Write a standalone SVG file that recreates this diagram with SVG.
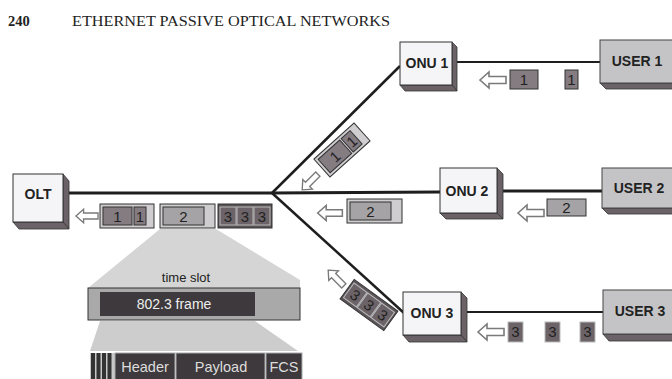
<svg xmlns="http://www.w3.org/2000/svg" xmlns:xlink="http://www.w3.org/1999/xlink" width="672" height="379" viewBox="0 0 672 379">
<defs>
<style>
.hdr{font-family:"Liberation Serif","Times New Roman",serif;fill:#222}
.lbl{font-family:"Liberation Sans",Arial,sans-serif;font-weight:bold;font-size:14px;fill:#222;text-anchor:middle}
.num{font-family:"Liberation Sans",Arial,sans-serif;font-size:15px;fill:#222;text-anchor:middle}
.txt{font-family:"Liberation Sans",Arial,sans-serif;text-anchor:middle}
.front{fill:#f5f5f7;stroke:#333;stroke-width:1}
.ufront{fill:#c4c4c6;stroke:#444;stroke-width:1}
.depth{fill:#6a6266;stroke:#333;stroke-width:0.8}
.link{stroke:#1e1e1e;fill:none}
.arrow{fill:#fff;stroke:#7a7a7a;stroke-width:1.6}
.outer{fill:#cfcdcf;stroke:#333;stroke-width:1}
.pk1{fill:#857c82;stroke:#333;stroke-width:1}
.pk2{fill:#a5a3a5;stroke:#333;stroke-width:1}
.pk3{fill:#6b6367;stroke:#bbb;stroke-width:1}
.dk{fill:#3d393c;stroke:#aaa;stroke-width:1}
</style>
<path id="arr" d="M-13,0 L-4,-8 L-4,-3.5 L13,-3.5 L13,3.5 L-4,3.5 L-4,8 Z"/>
<g id="g11">
<rect class="outer" width="54" height="24"/>
<rect class="pk1" x="3" y="3" width="29" height="18"/>
<rect class="pk1" x="34" y="3" width="12" height="18"/>
<text class="num" x="17.5" y="17.5">1</text>
<text class="num" x="40" y="17.5">1</text>
</g>
<g id="g2">
<rect class="outer" width="55" height="24"/>
<rect class="pk2" x="3" y="3" width="41" height="18"/>
<text class="num" x="23.5" y="17.5">2</text>
</g>
<g id="g333">
<rect width="54" height="24" fill="#5a5357" stroke="#333"/>
<rect class="pk3" x="2" y="3" width="16" height="18"/>
<rect class="pk3" x="19" y="3" width="16" height="18"/>
<rect class="pk3" x="36" y="3" width="16" height="18"/>
<text class="num" x="10" y="17.5" fill="#1e1e1e">3</text>
<text class="num" x="27" y="17.5" fill="#1e1e1e">3</text>
<text class="num" x="44" y="17.5" fill="#1e1e1e">3</text>
</g>
</defs>
<rect width="672" height="379" fill="#fff"/>

<text class="hdr" x="8" y="26" font-size="14.5" font-weight="bold">240</text>
<text class="hdr" x="72" y="26" font-size="14" textLength="318" lengthAdjust="spacingAndGlyphs">ETHERNET PASSIVE OPTICAL NETWORKS</text>

<g id="connectors">
<path class="link" stroke-width="3" d="M68,193 L272,193"/>
<path class="link" stroke-width="2.5" d="M272,193 L400,66"/>
<path class="link" stroke-width="3" d="M272,193 L440,192"/>
<path class="link" stroke-width="2.5" d="M272,193 L404,313"/>
<path class="link" stroke-width="2" d="M457,62 L600,62"/>
<path class="link" stroke-width="3" d="M503,191 L602,191"/>
<path class="link" stroke-width="2" d="M467,312 L603,312"/>
</g>

<g id="OLT">
<polygon class="depth" points="63,174 69,181 69,229 63,222"/>
<polygon class="depth" points="13,222 63,222 69,229 19,229"/>
<rect class="front" x="13" y="174" width="50" height="48"/>
<text class="lbl" x="38" y="199">OLT</text>
</g>
<g id="ONU1">
<polygon class="depth" points="452,42 457,47 457,91 452,85"/>
<polygon class="depth" points="400,85 452,85 457,91 405,91"/>
<rect class="front" x="400" y="42" width="52" height="43"/>
<text class="lbl" x="427" y="68">ONU 1</text>
</g>
<g id="ONU2">
<polygon class="depth" points="497,168 503,174 503,219 497,213"/>
<polygon class="depth" points="440,213 497,213 503,219 446,219"/>
<rect class="front" x="440" y="168" width="57" height="45"/>
<text class="lbl" x="467" y="196">ONU 2</text>
</g>
<g id="ONU3">
<polygon class="depth" points="461,292 467,298 467,342 461,335"/>
<polygon class="depth" points="403,335 461,335 467,342 409,342"/>
<rect class="front" x="403" y="292" width="58" height="43"/>
<text class="lbl" x="432" y="318">ONU 3</text>
</g>
<g id="USER1">
<polygon class="depth" points="600,83 680,83 686,89 606,89"/>
<rect class="ufront" x="600" y="40" width="80" height="43"/>
<text class="lbl" x="637" y="66">USER 1</text>
</g>
<g id="USER2">
<polygon class="depth" points="602,208 680,208 686,214 608,214"/>
<rect class="ufront" x="602" y="168" width="80" height="40"/>
<text class="lbl" x="639" y="193">USER 2</text>
</g>
<g id="USER3">
<polygon class="depth" points="603,334 680,334 686,341 609,341"/>
<rect class="ufront" x="603" y="290" width="80" height="44"/>
<text class="lbl" x="640" y="316">USER 3</text>
</g>

<g id="packets">
<use xlink:href="#arr" class="arrow" transform="translate(87,216) scale(0.85)"/>
<use xlink:href="#g11" x="100" y="204"/>
<use xlink:href="#g2" x="160" y="204"/>
<use xlink:href="#g333" x="218" y="204"/>

<use xlink:href="#g11" transform="translate(342,150) rotate(-42) translate(-27,-12)"/>
<use xlink:href="#arr" class="arrow" transform="translate(310,182) rotate(-45) scale(0.85)"/>

<use xlink:href="#arr" class="arrow" transform="translate(330,213) scale(0.95)"/>
<use xlink:href="#g2" x="347" y="199"/>

<use xlink:href="#g333" transform="translate(369,305) rotate(36) translate(-27,-12)"/>
<use xlink:href="#arr" class="arrow" transform="translate(336,278) rotate(45) scale(0.85)"/>

<use xlink:href="#arr" class="arrow" transform="translate(493,80)"/>
<rect class="pk1" x="510" y="70" width="28" height="19"/>
<text class="num" x="524" y="85">1</text>
<rect class="pk1" x="565" y="70" width="13" height="19"/>
<text class="num" x="571.5" y="85">1</text>

<use xlink:href="#arr" class="arrow" transform="translate(531,213)"/>
<rect class="pk2" x="547" y="199" width="39" height="17" fill="#8e8b8e"/>
<text class="num" x="566.5" y="213">2</text>

<use xlink:href="#arr" class="arrow" transform="translate(491,332)"/>
<rect class="pk3" x="508" y="322" width="15" height="20" stroke="#333"/>
<text class="num" x="515.5" y="337">3</text>
<rect class="pk3" x="545" y="322" width="15" height="20" stroke="#333"/>
<text class="num" x="552.5" y="337">3</text>
<rect class="pk3" x="580" y="322" width="15" height="20" stroke="#333"/>
<text class="num" x="587.5" y="337">3</text>
</g>

<g id="timeslot">
<polygon points="160,229 216,229 300,280 300,288 88,288" fill="#d5d5d5"/>
<text class="txt" x="186" y="282" font-size="13" fill="#222">time slot</text>
<rect x="88" y="288" width="212" height="32" fill="#a9a9a9" stroke="#333"/>
<rect x="100" y="292" width="155" height="24" fill="#3d393c"/>
<text class="txt" x="174" y="309" font-size="14" fill="#eee">802.3 frame</text>
<polygon points="100,321 255,321 298,351 90,351" fill="#cdcdcd"/>
<rect x="90" y="353" width="25" height="30" fill="#c8c8c8"/>
<rect x="91" y="353" width="4" height="30" fill="#333"/>
<rect x="96.5" y="353" width="4" height="30" fill="#333"/>
<rect x="102" y="353" width="4" height="30" fill="#333"/>
<rect x="107.5" y="353" width="4" height="30" fill="#333"/>
<rect class="dk" x="115" y="353" width="60" height="30"/>
<rect class="dk" x="176" y="353" width="89" height="30"/>
<rect class="dk" x="266" y="353" width="36" height="30"/>
<text class="txt" x="145" y="372" font-size="14.5" fill="#ddd">Header</text>
<text class="txt" x="221" y="372" font-size="14.5" fill="#ddd">Payload</text>
<text class="txt" x="284" y="372" font-size="14.5" fill="#ddd">FCS</text>
</g>
</svg>
